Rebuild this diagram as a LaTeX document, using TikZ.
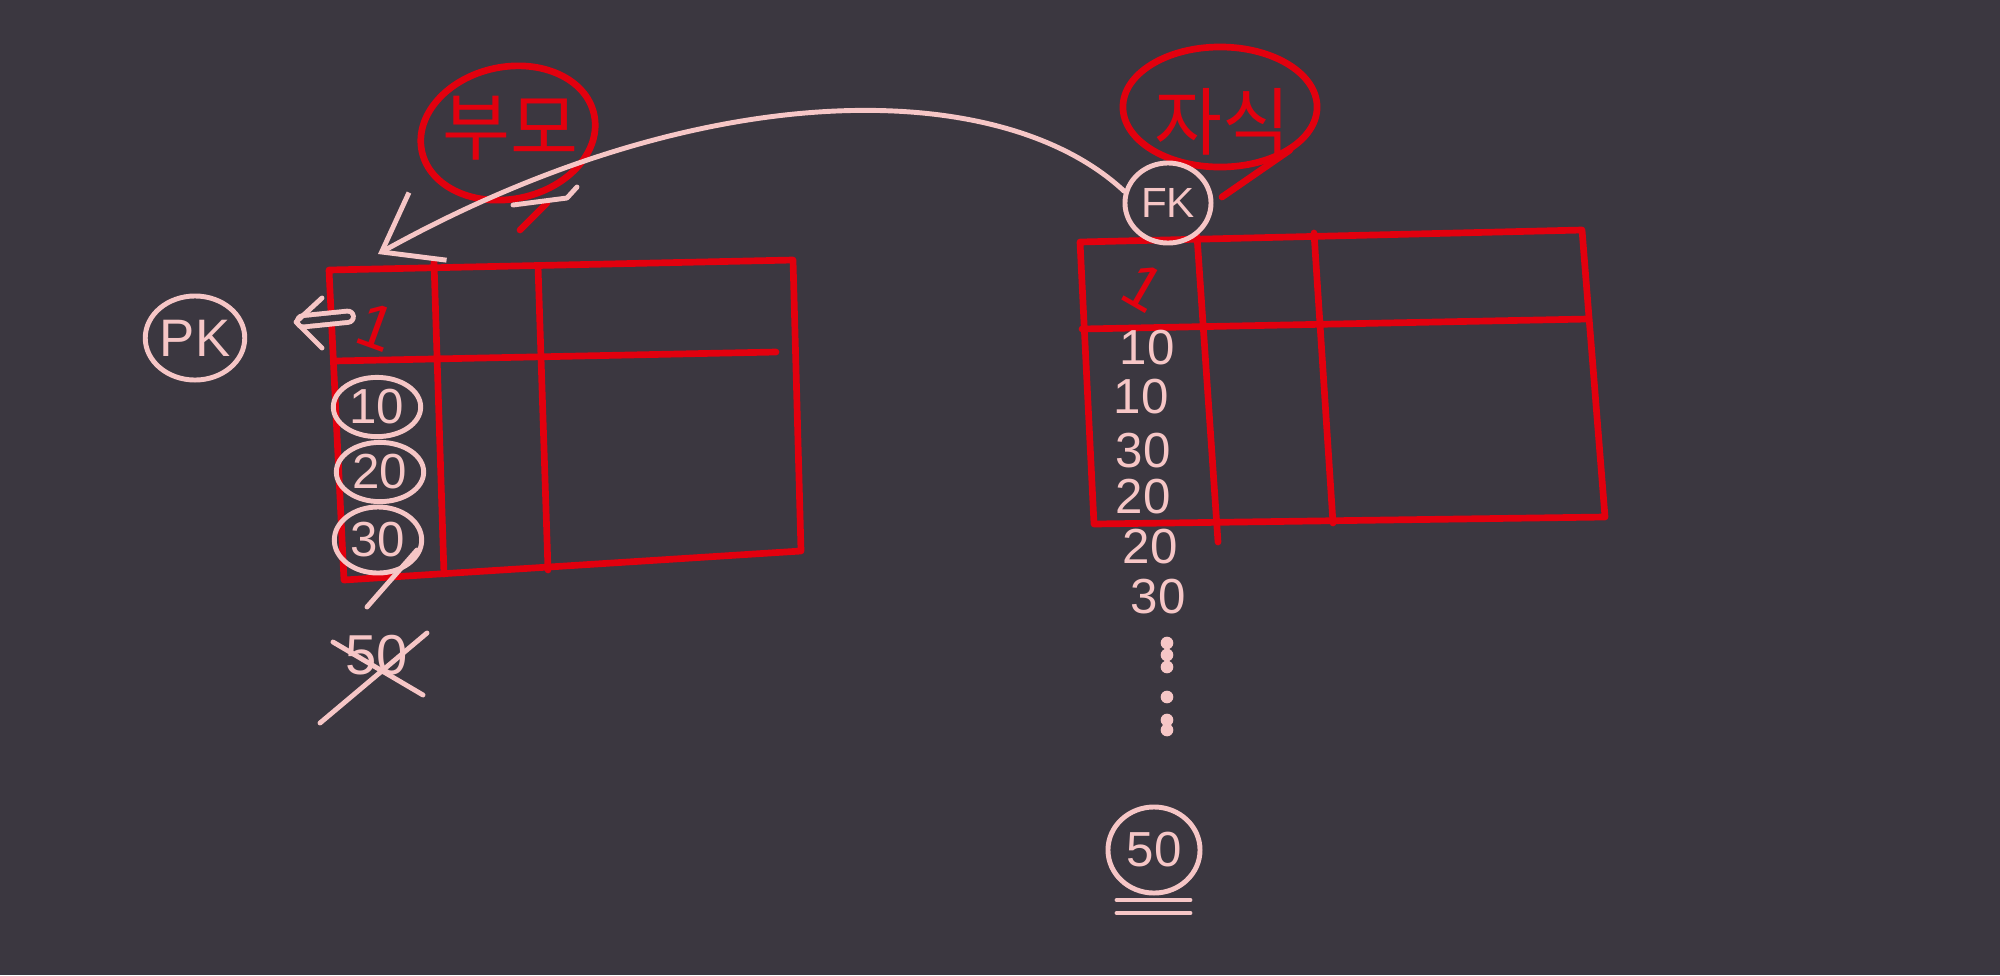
\documentclass[tikz,border=0pt]{standalone}
\usepackage{fontspec}
\setmainfont{Liberation Sans}
\newfontfamily\kofont{Noto Sans CJK KR}
\usetikzlibrary{arrows,arrows.meta,shapes.geometric,positioning}
\definecolor{board}{HTML}{3B3740}
\definecolor{pen}{HTML}{E2000E}
\definecolor{chalk}{HTML}{F6C6C6}

\begin{document}
\begin{tikzpicture}[x=0.01cm,y=-0.01cm]
\tikzstyle{redpen}=[draw=pen, line width=1.9pt, line cap=round, line join=round]
\tikzstyle{pinkpen}=[draw=chalk, line width=1.4pt, line cap=round, line join=round]
\tikzstyle{val}=[text=chalk, font=\fontsize{14}{14}\selectfont, inner sep=1pt]
\tikzstyle{ring}=[ellipse, draw=chalk, line width=1.4pt, inner sep=0pt]
\tikzstyle{word}=[text=pen, font=\kofont\fontsize{21}{21}\selectfont]
  \fill[board] (0,0) rectangle (2000,975);
  \useasboundingbox (0,0) rectangle (2000,975);
  % parent table
  \draw[redpen] (329,270) -- (793,260) -- (801,551) -- (344,580) -- cycle;
  \draw[redpen] (434,262) -- (444,574) (538,266) -- (548,570) (334,361) -- (776,352);
  % child table
  \draw[redpen] (1080,242) -- (1582,230) -- (1605,517) -- (1094,524) -- cycle;
  \draw[redpen] (1197,236) -- (1218,542) (1314,233) -- (1333,523) (1082,329) -- (1588,319);
  % labels
  \draw[redpen, rotate around={12:(508,133)}] (508,133) ellipse [x radius=0.88cm, y radius=0.66cm];
  \node[word] (parentname) at (510,128) {부모};
  \draw[redpen] (520,230) -- (547,203);
  \draw[pinkpen] (513,205) -- (567,198) -- (577,187);
  \draw[redpen] (1220,107) ellipse [x radius=0.97cm, y radius=0.6cm];
  \node[word] (childname) at (1222,122) {자식};
  \draw[redpen] (1222,197) -- (1290,150);
  \node[ring, minimum width=0.86cm, minimum height=0.8cm, text=chalk, font=\fontsize{12}{12}\selectfont] (fk) at (1168,203) {FK};
  \node[ring, minimum width=0.84cm, minimum height=0.84cm, text=chalk, font=\fontsize{15}{15}\selectfont] (pk) at (195,338) {PK};
  % parent keys
  \node[text=pen, rotate=-20, font=\fontsize{18}{18}\selectfont] (pone) at (376,327) {1};
  \node[ring, val, minimum width=0.68cm, minimum height=0.52cm] (p10) at (377,407) {10};
  \node[ring, val, minimum width=0.74cm, minimum height=0.58cm] (p20) at (380,472) {20};
  \node[ring, val, minimum width=0.76cm, minimum height=0.66cm] (p30) at (378,540) {30};
  \draw[pinkpen] (417,550) -- (367,607);
  \node[val, font=\fontsize{16}{16}\selectfont] (p50) at (377,655) {50};
  \draw[pinkpen] (333,642) -- (423,695) (427,633) -- (320,723);
  \coordinate (pkend) at (296,322);
  \draw[pinkpen, double=board, double distance=1.8pt, shorten >=2pt] (pone.west) -- (pkend);
  \draw[pinkpen] (322,298) -- (pkend) -- (322,348);
  % foreign keys
  \node[text=pen, rotate=-30, font=\fontsize{18}{18}\selectfont] (cone) at (1144,287) {1};
  \foreach \v/\x/\y [count=\i] in {10/1147/348, 10/1141/397, 30/1143/451, 20/1143/497, 20/1150/547, 30/1158/597}
    \node[val] (c\i) at (\x,\y) {\v};
  \foreach \y in {643,655,667,697,720,730}
    \fill[chalk] (1167,\y) circle (1.8pt);
  \node[ring, val, minimum width=0.92cm, minimum height=0.86cm] (c50) at (1154,850) {50};
  \draw[pinkpen] (1117,900) -- (1190,900) (1117,913) -- (1190,913);
  % reference arrow
  \coordinate (parentend) at (378,254);
  \draw[pinkpen, -{Straight Barb[length=15pt,width=22pt]}] (fk.165) .. controls (1000,75) and (700,75) .. (parentend);
\end{tikzpicture}
\end{document}
